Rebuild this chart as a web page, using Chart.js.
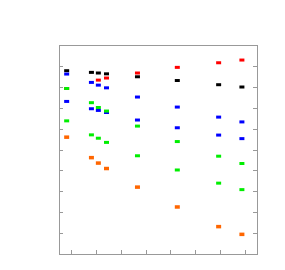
<!DOCTYPE html>
<html>
<head>
<meta charset="utf-8">
<script src="https://cdn.jsdelivr.net/npm/chart.js@4/dist/chart.umd.min.js"></script>
<style>
  html, body { margin: 0; padding: 0; background: #fff; }
  #wrap { width: 285px; height: 270px; }
</style>
</head>
<body>
<div id="wrap"><canvas id="chart"></canvas></div>
<script>
// x positions of the columns
const xs = [0.31, 1.31, 1.59, 1.92, 3.17, 4.78, 6.45, 7.39];

// series values (null = not shown)
const blackVals  = [8.77, 8.69, 8.66, 8.62, 8.48, 8.30, 8.10, 7.99];
const redVals    = [7.92, null, 8.32, 8.42, 8.66, 8.93, 9.15, 9.28];
const blueUpper  = [8.61, 8.21, 8.08, 7.95, 7.51, 7.03, 6.55, 6.32];
const blueLower  = [7.30, 6.95, 6.87, 6.77, 6.41, 6.04, 5.69, 5.52];
const greenUpper = [7.92, 7.24, 7.01, 6.84, 6.12, 5.38, 4.68, 4.33];
const greenLower = [6.37, 5.70, 5.54, 5.34, 4.70, 4.02, 3.39, 3.08];
const orangeVals = [5.59, 4.61, 4.35, 4.09, 3.20, 2.25, 1.31, 0.94];

// tick positions
const xTicks = [0.5, 1.5, 2.5, 3.5, 4.5, 5.5, 6.5, 7.5];
const yTicks = [1, 2, 3, 4, 5, 6, 7, 8, 9];

function pts(vals) {
    return vals.map((v, i) => ({x: xs[i], y: v}));
}

function series(vals, color, thick) {
    return {
        data: pts(vals),
        showLine: false,
        pointStyle: 'line',
        pointRadius: 2.5,
        pointHoverRadius: 2.5,
        pointBorderWidth: thick,
        pointHoverBorderWidth: thick,
        borderColor: color,
        backgroundColor: color
    };
}

// frame + inward ticks, drawn from the scales
const frame = {
    id: 'frame',
    beforeDatasetsDraw(chart) {
        const {ctx, chartArea: a, scales} = chart;
        ctx.save();
        ctx.strokeStyle = '#999';
        ctx.lineWidth = 1;
        ctx.strokeRect(a.left + 0.5, a.top + 0.5, a.right - a.left, a.bottom - a.top);
        ctx.beginPath();
        xTicks.forEach(t => {
            const px = Math.round(scales.x.getPixelForValue(t)) + 0.5;
            ctx.moveTo(px, a.bottom);
            ctx.lineTo(px, a.bottom - 4);
        });
        yTicks.forEach(t => {
            const py = Math.round(scales.y.getPixelForValue(t)) + 0.5;
            ctx.moveTo(a.left, py);
            ctx.lineTo(a.left + 4, py);
            ctx.moveTo(a.right, py);
            ctx.lineTo(a.right - 4, py);
        });
        ctx.stroke();
        ctx.restore();
    }
};

const chart = new Chart(document.getElementById('chart'), {
    type: 'scatter',
    data: {
        datasets: [
            series(orangeVals, '#ff6600', 3.5),
            series(greenLower, '#00ee00', 3),
            series(greenUpper, '#00ee00', 3),
            series(blueLower, '#0000ff', 3),
            series(blueUpper, '#0000ff', 3),
            series(redVals, '#ff0000', 3),
            series(blackVals, '#000000', 3)
        ]
    },
    options: {
        responsive: true,
        maintainAspectRatio: false,
        animation: false,
        layout: {
            padding: {left: 59, top: 45, right: 28, bottom: 16}
        },
        scales: {
            x: {type: 'linear', min: 0, max: 8, display: false},
            y: {type: 'linear', min: 0, max: 10, display: false}
        },
        plugins: {
            legend: {display: false},
            tooltip: {enabled: false}
        }
    },
    plugins: [frame]
});
</script>
</body>
</html>
